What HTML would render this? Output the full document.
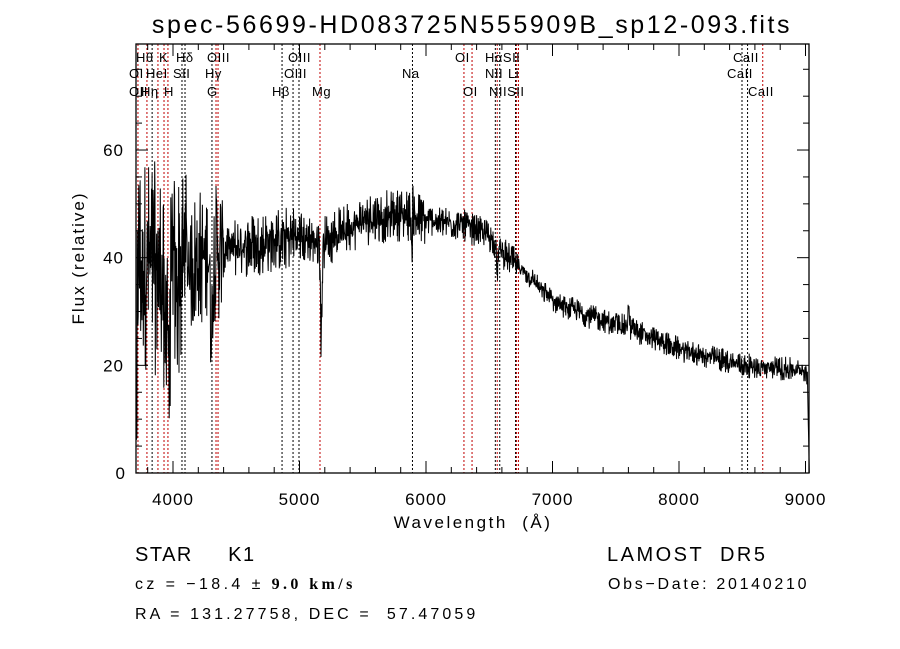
<!DOCTYPE html>
<html><head><meta charset="utf-8"><style>
html,body{margin:0;padding:0;background:#fff;}
svg{display:block;font-family:"Liberation Sans","DejaVu Sans",sans-serif;}
text{white-space:pre;}
</style></head><body>
<svg id="s" width="900" height="649" viewBox="0 0 900 649" xmlns="http://www.w3.org/2000/svg" xml:space="preserve">
<rect width="900" height="649" fill="#fff"/>
<text x="472" y="33" font-size="25" letter-spacing="2.6" text-anchor="middle">spec-56699-HD083725N555909B_sp12-093.fits</text>
<g id="lines"></g>
<g id="lab" font-size="13" letter-spacing="0.5"></g>
<polyline id="spec" fill="none" stroke="#000" stroke-width="1" points=""/>
<rect x="136" y="44" width="673" height="429" fill="none" stroke="#000" stroke-width="1.3"/>
<g id="ticks" stroke="#000" stroke-width="1"></g>
<g id="tl" font-size="17" letter-spacing="1" text-anchor="middle"></g>
<text x="473" y="528" font-size="17" letter-spacing="2.5" text-anchor="middle">Wavelength  (Å)</text>
<text transform="translate(84,258) rotate(-90)" font-size="17" letter-spacing="2" text-anchor="middle">Flux (relative)</text>
<text x="135" y="561" font-size="20" letter-spacing="1.5">STAR     K1</text>
<text x="607" y="561" font-size="20" letter-spacing="2.5">LAMOST  DR5</text>
<text x="135" y="589" font-size="16" letter-spacing="3.4">cz = −18.4 ± <tspan font-family="Liberation Serif" font-weight="bold">9.0 km/s</tspan></text>
<text x="608" y="589" font-size="16" letter-spacing="2.7">Obs−Date: 20140210</text>
<text x="135" y="619" font-size="16" letter-spacing="3.1">RA = 131.27758, DEC =  57.47059</text>
</svg>
<script>
var NS="http://www.w3.org/2000/svg";
function X(w){return 173+(w-4000)*0.1265;}
function Y(f){return 473-f*5.383;}
function el(p,t,a,txt){var e=document.createElementNS(NS,t);for(var k in a)e.setAttribute(k,a[k]);if(txt)e.textContent=txt;document.getElementById(p).appendChild(e);}
var L=[[3723,1],[3794,1],[3835,0],[3881,1],[3929,1],[3960,1],[4071,0],[4095,0],[4308,0],[4340,1],[4356,1],[4862,0],[4949,0],[4996,0],[5162,1],[5893,0],[6300,1],[6364,1],[6548,0],[6563,1],[6583,0],[6708,0],[6716,1],[6731,1],[8498,0],[8542,0],[8662,1]];
L.forEach(function(l){var x=X(l[0]);el("lines","line",{x1:x,x2:x,y1:44,y2:473,stroke:l[1]?"#c00000":"#000","stroke-width":1,"stroke-dasharray":"2,2"});});
var T=[["Hθ",136,62],["K",159,62],["Hδ",176,62],["OIII",207,62],["OIII",288,62],["OI",455,62],["HαSII",485,62],["CaII",733,62],
["OI",129,78],["HeI",146,78],["SII",173,78],["Hγ",205,78],["OIII",284,78],["Na",402,78],["NII",485,78],["Li",508,78],["CaII",727,78],
["OII",129,96],["Hη",141,96],["H",164,96],["G",207,96],["Hβ",272,96],["Mg",312,96],["OI",463,96],["NIISII",489,96],["CaII",748,96]];
T.forEach(function(t){el("lab","text",{x:t[1],y:t[2]},t[0]);});
for(var w=3800;w<=9000;w+=200){var x=X(w),big=(w%1000==0);
 el("ticks","line",{x1:x,x2:x,y1:473,y2:473-(big?12:6)});el("ticks","line",{x1:x,x2:x,y1:44,y2:44+(big?12:6)});
 if(big)el("tl","text",{x:x,y:505},String(w));}
for(var f=0;f<=75;f+=5){var y=Y(f),big=(f%20==0);
 el("ticks","line",{x1:136,x2:136+(big?12:6),y1:y,y2:y});el("ticks","line",{x1:809,x2:809-(big?12:6),y1:y,y2:y});
 if(big)el("tl","text",{x:f<10?126:124,y:y+6,"text-anchor":"end"},String(f));}
var C=[[3708,40],[4000,36],[4200,40],[4500,42],[5000,44],[5200,43],[5500,47],[5800,48],[6000,47],[6300,46],[6500,44],[6600,41],[6800,37],[7000,32],[7300,29],[7600,27],[8000,23],[8500,20],[9000,19],[9032,17]];
function cont(w){for(var i=0;i<C.length-1;i++){if(w<=C[i+1][0]){var t=(w-C[i][0])/(C[i+1][0]-C[i][0]);return C[i][1]+t*(C[i+1][1]-C[i][1]);}}return 17;}
var seed=12345;function rnd(){seed=(seed*1103515245+12345)%2147483648;return seed/2147483648;}
function g(w,c,s,d){return d*Math.exp(-(w-c)*(w-c)/(2*s*s));}
var pts=[];
for(var w=3710;w<=9030;w+=2.5){
 var f=cont(w),a;
 if(w<4100)a=20;else if(w<4400)a=13;else if(w<5000)a=6;else if(w<6000)a=5;else if(w<6700)a=3;else a=2.3;
 f+=(rnd()-0.5)*2*a*(rnd()<0.6?1:0.4);
 f+=g(w,5172,6,-18)+g(w,5890,4,-11)+g(w,5895,2,15)+g(w,4305,8,-15)+g(w,3934,6,-20)+g(w,3968,6,-18)+g(w,6563,4,-6)+g(w,7600,6,4)+g(w,4100,5,14);
 if(w<3716)f=Math.min(f,3+rnd()*5);
 if(w>9015)f=(9030-w)*1.2;
 f=Math.max(0,Math.min(79,f));
 pts.push(X(w).toFixed(1)+","+Y(f).toFixed(1));}
document.getElementById("spec").setAttribute("points",pts.join(" "));
</script>
</body></html>
